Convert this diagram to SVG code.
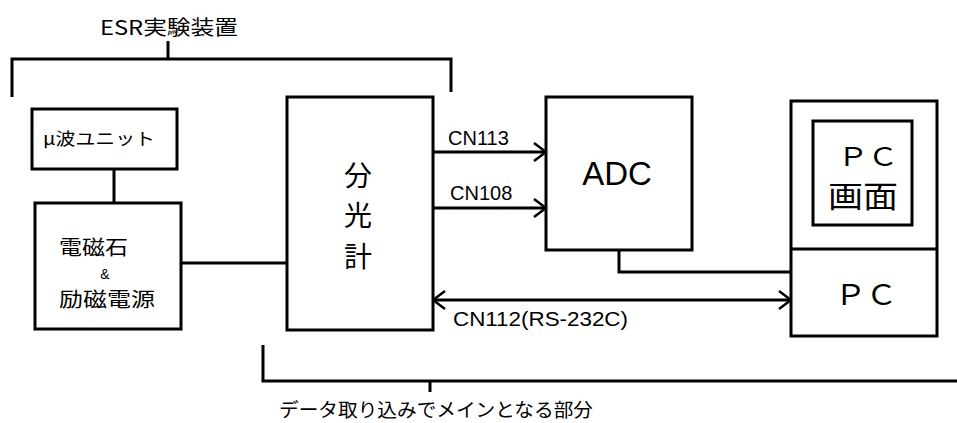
<svg xmlns="http://www.w3.org/2000/svg" width="957" height="423" viewBox="0 0 957 423">
<style>
.box{fill:none;stroke:#000;stroke-width:3}
.ln{fill:none;stroke:#000;stroke-width:3}
.jp{font-family:"Noto Sans CJK JP","Noto Sans",sans-serif;fill:#000}
.en{font-family:"Liberation Sans",Arial,sans-serif;fill:#000}
</style>
<defs>
<marker id="arr" viewBox="0 0 14 20" refX="13" refY="10" markerWidth="14" markerHeight="20" markerUnits="userSpaceOnUse" orient="auto-start-reverse">
<polyline points="1,1 13,10 1,19" fill="none" stroke="#000" stroke-width="2.5"/>
</marker>
</defs>
<rect width="957" height="423" fill="#fff"/>
<g id="bracket-top">
<path class="ln" d="M12,97 V59 H451 V92 M168,59 V41"/>
<text class="jp" x="100" y="35" font-size="20" textLength="138" lengthAdjust="spacingAndGlyphs">ESR実験装置</text>
</g>
<g id="bracket-bottom">
<path class="ln" d="M263,345 V381 H957 M430,381 V392"/>
<text class="jp" x="279" y="417" font-size="19" textLength="314" lengthAdjust="spacingAndGlyphs">データ取り込みでメインとなる部分</text>
</g>
<g id="connectors">
<path class="ln" d="M114,169 V203"/>
<path class="ln" d="M181,263 H288"/>
<path class="ln" d="M433,152 H546" marker-end="url(#arr)"/>
<path class="ln" d="M433,208 H546" marker-end="url(#arr)"/>
<path class="ln" d="M433,300 H791" marker-start="url(#arr)" marker-end="url(#arr)"/>
<path class="ln" d="M619,250 V272 H791"/>
<text class="en" x="448" y="145" font-size="20">CN113</text>
<text class="en" x="450" y="200" font-size="20">CN108</text>
<text class="en" x="453" y="326" font-size="20" textLength="175" lengthAdjust="spacingAndGlyphs">CN112(RS-232C)</text>
</g>
<g id="microwave">
<rect class="box" x="32" y="109" width="145" height="60"/>
<text class="jp" x="43" y="145" font-size="17" textLength="112" lengthAdjust="spacingAndGlyphs">μ波ユニット</text>
</g>
<g id="magnet">
<rect class="box" x="35" y="203" width="146" height="126"/>
<text class="jp" x="59" y="255" font-size="20" textLength="69" lengthAdjust="spacingAndGlyphs">電磁石</text>
<text class="en" x="105" y="279" font-size="14" text-anchor="middle">&amp;</text>
<text class="jp" x="59" y="307" font-size="20" textLength="96" lengthAdjust="spacingAndGlyphs">励磁電源</text>
</g>
<g id="spectrometer">
<rect class="box" x="287" y="97" width="146" height="233"/>
<text class="jp" x="358" y="186" font-size="28" text-anchor="middle">分</text>
<text class="jp" x="358" y="226" font-size="28" text-anchor="middle">光</text>
<text class="jp" x="358" y="267" font-size="28" text-anchor="middle">計</text>
</g>
<g id="adc">
<rect class="box" x="546" y="97" width="146" height="153"/>
<text class="en" x="617" y="185" font-size="33" text-anchor="middle">ADC</text>
</g>
<g id="pc">
<rect class="box" x="791" y="101" width="146" height="235"/>
<line class="ln" x1="791" y1="249" x2="937" y2="249"/>
<rect class="box" x="813" y="121" width="99" height="104"/>
<text class="jp" x="838" y="166" font-size="26" textLength="60" lengthAdjust="spacingAndGlyphs">ＰＣ</text>
<text class="jp" x="828" y="207" font-size="30" textLength="70" lengthAdjust="spacingAndGlyphs">画面</text>
<text class="jp" x="835" y="305" font-size="28" textLength="62" lengthAdjust="spacingAndGlyphs">ＰＣ</text>
</g>
</svg>
